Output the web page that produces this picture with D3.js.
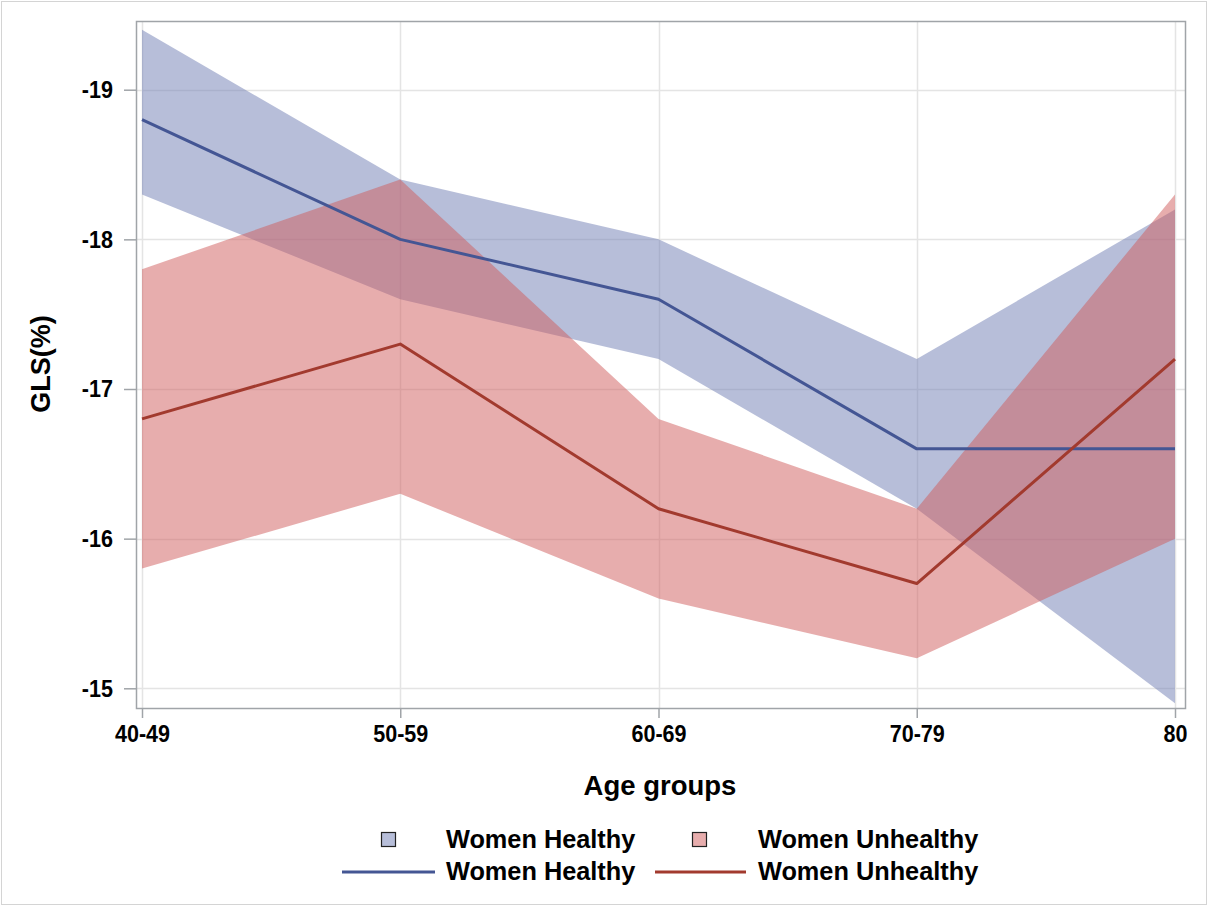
<!DOCTYPE html>
<html>
<head>
<meta charset="utf-8">
<script src="https://cdn.jsdelivr.net/npm/d3@7"></script>
<style>
  html, body { margin: 0; padding: 0; background: #fff; }
  svg { display: block; }
</style>
</head>
<body>
<svg id="chart" width="1209" height="907"></svg>
<script>
// ---- data ----
const categories = ["40-49", "50-59", "60-69", "70-79", "80"];
const healthyMean  = [-18.8, -18.0, -17.6, -16.6, -16.6];
const healthyUpper = [-19.4, -18.4, -18.0, -17.2, -18.2];
const healthyLower = [-18.3, -17.6, -17.2, -16.2, -14.9];
const unhealthyMean  = [-16.8, -17.3, -16.2, -15.7, -17.2];
const unhealthyUpper = [-17.8, -18.4, -16.8, -16.2, -18.3];
const unhealthyLower = [-15.8, -16.3, -15.6, -15.2, -16.0];
const yTicks = [-19, -18, -17, -16, -15];
const seriesNames = ["Women Healthy", "Women Unhealthy"];

// ---- layout ----
const svg = d3.select("#chart");
const W = 1209, H = 907;
const frame = { left: 136, right: 1185, top: 21, bottom: 708 };

const x = d3.scalePoint().domain(categories).range([142, 1175]).padding(0);
const y = d3.scaleLinear().domain([-15, -19]).range([688.3, 89.7]);

const labelFont = "'Liberation Sans', Arial, sans-serif";
const narrow = 0.88;

// outer border
svg.append("rect").attr("x", 1.5).attr("y", 1.5).attr("width", W - 4).attr("height", H - 4)
  .attr("fill", "#fff").attr("stroke", "#d4d4d4").attr("stroke-width", 1);

// gridlines
const grid = svg.append("g");
grid.selectAll(".hg").data(yTicks).join("line")
  .attr("x1", frame.left).attr("x2", frame.right)
  .attr("y1", d => Math.round(y(d)) + 0.5).attr("y2", d => Math.round(y(d)) + 0.5)
  .attr("stroke", "#e4e4e4").attr("stroke-width", 1.5);
grid.selectAll(".vg").data(categories).join("line")
  .attr("y1", frame.top).attr("y2", frame.bottom)
  .attr("x1", d => Math.round(x(d)) + 0.5).attr("x2", d => Math.round(x(d)) + 0.5)
  .attr("stroke", "#e4e4e4").attr("stroke-width", 1.5);

// bands
const bandData = (lo, hi) => categories.map((c, i) => ({ c, lo: lo[i], hi: hi[i] }));
const area = d3.area().x(d => x(d.c)).y0(d => y(d.lo)).y1(d => y(d.hi));
svg.append("path").datum(bandData(healthyLower, healthyUpper))
  .attr("d", area).attr("fill", "#6F7EB3").attr("fill-opacity", 0.5);
svg.append("path").datum(bandData(unhealthyLower, unhealthyUpper))
  .attr("d", area).attr("fill", "#D05B5B").attr("fill-opacity", 0.5);

// lines
const line = d3.line().x(d => x(d.c)).y(d => y(d.v));
const lineData = vals => categories.map((c, i) => ({ c, v: vals[i] }));
svg.append("path").datum(lineData(healthyMean)).attr("d", line)
  .attr("fill", "none").attr("stroke", "#445694").attr("stroke-width", 3).attr("stroke-linejoin", "round");
svg.append("path").datum(lineData(unhealthyMean)).attr("d", line)
  .attr("fill", "none").attr("stroke", "#A23A2E").attr("stroke-width", 3).attr("stroke-linejoin", "round");

// frame
svg.append("rect").attr("x", frame.left + 0.5).attr("y", frame.top + 0.5)
  .attr("width", frame.right - frame.left).attr("height", frame.bottom - frame.top)
  .attr("fill", "none").attr("stroke", "#a0a4a8").attr("stroke-width", 1.5);

// y axis
const yAxis = d3.axisLeft(y).tickValues(yTicks).tickSize(12).tickPadding(8).tickFormat(d3.format("d"));
const yg = svg.append("g").attr("transform", `translate(${frame.left},0)`).call(yAxis);
yg.select(".domain").remove();
yg.selectAll(".tick line").attr("stroke", "#a0a4a8").attr("stroke-width", 1.5);
yg.selectAll(".tick text").attr("fill", "#000").attr("font-family", labelFont)
  .attr("font-weight", "bold").attr("font-size", 24.5)
  .attr("x", -23 / narrow).attr("transform", `scale(${narrow},1)`)
  .text(d => String(d).replace("\u2212", "-"));

// x axis
const xAxis = d3.axisBottom(x).tickSize(10).tickPadding(7);
const xg = svg.append("g").attr("transform", `translate(0,${frame.bottom})`).call(xAxis);
xg.select(".domain").remove();
xg.selectAll(".tick line").attr("stroke", "#a0a4a8").attr("stroke-width", 1.5);
xg.selectAll(".tick text").attr("fill", "#000").attr("font-family", labelFont)
  .attr("font-weight", "bold").attr("font-size", 24.5)
  .attr("x", function(d) { return 0; })
  .attr("transform", `scale(${narrow},1)`)
  .attr("dx", 0);
// compensate scale on x position for tick texts (group is translated, text at x=0 so scale keeps centre)

// axis titles
svg.append("text").attr("x", 660).attr("y", 795).attr("text-anchor", "middle")
  .attr("font-family", labelFont).attr("font-weight", "bold").attr("font-size", 27.5)
  .text("Age groups");
svg.append("text").attr("transform", "translate(50,364) rotate(-90)").attr("text-anchor", "middle")
  .attr("font-family", labelFont).attr("font-weight", "bold").attr("font-size", 27)
  .text("GLS(%)");

// legend
const legend = svg.append("g");
const bandColors = ["#6F7EB3", "#D05B5B"];
const lineColors = ["#445694", "#A23A2E"];
const squareX = [381, 692];
const textX = [446, 758];
const lineX = [[342, 435], [655, 746]];
seriesNames.forEach((name, i) => {
  legend.append("rect").attr("x", squareX[i] + 0.5).attr("y", 832.5).attr("width", 14).attr("height", 14)
    .attr("fill", bandColors[i]).attr("fill-opacity", 0.5).attr("stroke", "#222").attr("stroke-width", 1.2);
  legend.append("text").attr("x", textX[i]).attr("y", 848)
    .attr("font-family", labelFont).attr("font-weight", "bold").attr("font-size", 25.3).text(name);
  legend.append("line").attr("x1", lineX[i][0]).attr("x2", lineX[i][1]).attr("y1", 872).attr("y2", 872)
    .attr("stroke", lineColors[i]).attr("stroke-width", 3);
  legend.append("text").attr("x", textX[i]).attr("y", 880)
    .attr("font-family", labelFont).attr("font-weight", "bold").attr("font-size", 25.3).text(name);
});
</script>
</body>
</html>
